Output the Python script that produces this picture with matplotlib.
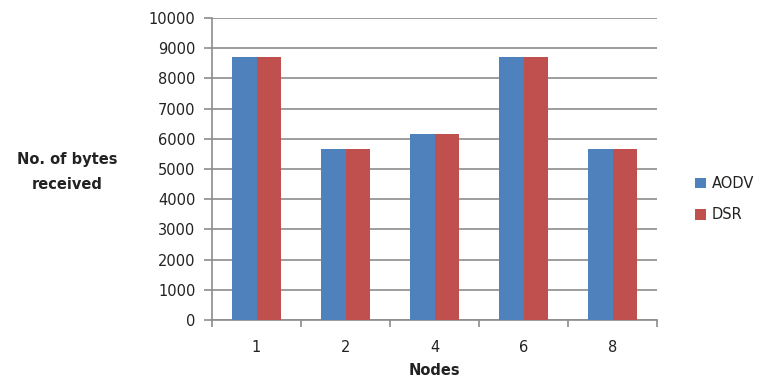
import numpy as np
import matplotlib
matplotlib.use("Agg")
import matplotlib.pyplot as plt

plt.rcParams['font.family'] = ['DejaVu Sans']

nodes = ["1", "2", "4", "6", "8"]
aodv = [8700, 5650, 6150, 8700, 5650]
dsr = [8700, 5650, 6150, 8700, 5650]

fig = plt.figure(figsize=(7.64, 3.82), dpi=100)
ax = fig.add_axes([0.2775, 0.162, 0.5825, 0.791])

x = np.arange(len(nodes))
w = 0.28
ax.bar(x - w / 2, aodv, w, color="#4F81BD", label="AODV", zorder=3)
ax.bar(x + w / 2, dsr, w, color="#C0504D", label="DSR", zorder=3)

ax.set_xlim(-0.5, len(nodes) - 0.5)
ax.set_ylim(0, 10000)
ax.set_yticks(range(0, 10001, 1000))
ax.yaxis.grid(True, color="#8c8c8c", linewidth=1.2, zorder=0)

# category labels in the middle, tick marks on the boundaries
ax.set_xticks(x)
ax.set_xticklabels(nodes)
ax.set_xticks(np.arange(-0.5, len(nodes) - 0.4, 1), minor=True)
ax.tick_params(axis="x", which="major", length=0, pad=14, labelsize=10.5, labelcolor="#222222")
ax.tick_params(axis="x", which="minor", length=5, color="#8c8c8c", width=1.2)
ax.tick_params(axis="y", length=6, color="#8c8c8c", width=1.2, labelsize=10.5,
               pad=6, labelcolor="#222222")

for s in ["top", "right"]:
    ax.spines[s].set_visible(False)
for s in ["left", "bottom"]:
    ax.spines[s].set_color("#8c8c8c")
    ax.spines[s].set_linewidth(1.2)

ax.set_xlabel("Nodes", fontweight="bold", fontsize=10.5, labelpad=6, color="#222222")
fig.text(0.088, 0.55, "No. of bytes\nreceived", fontweight="bold", fontsize=10.5,
         ha="center", va="center", linespacing=1.8, color="#222222")

ax.legend(loc="center left", bbox_to_anchor=(1.055, 0.40), frameon=False,
          fontsize=10.5, handlelength=0.75, handleheight=0.75, labelspacing=1.1,
          handletextpad=0.4, labelcolor="#222222")

fig.savefig("out.png", dpi=100)
